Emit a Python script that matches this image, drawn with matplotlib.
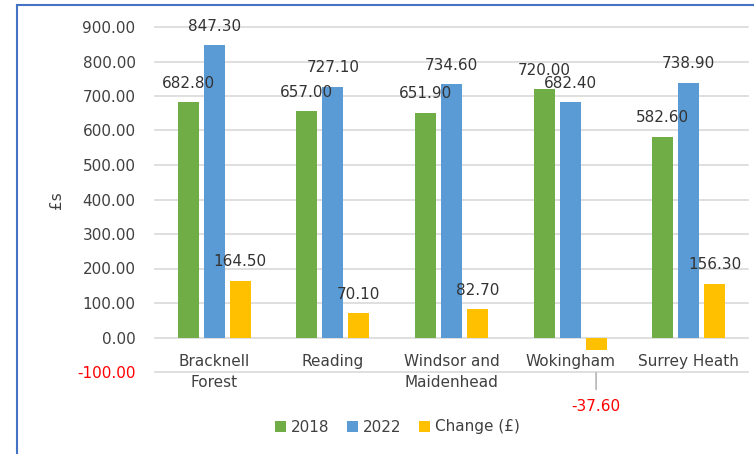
import matplotlib.pyplot as plt
import numpy as np
from matplotlib.lines import Line2D

# Data
categories = ["Bracknell\nForest", "Reading", "Windsor and\nMaidenhead", "Wokingham", "Surrey Heath"]
values_2018 = [682.80, 657.00, 651.90, 720.00, 582.60]
values_2022 = [847.30, 727.10, 734.60, 682.40, 738.90]
values_change = [164.50, 70.10, 82.70, -37.60, 156.30]
series_names = ["2018", "2022", "Change (£)"]
y_ticks = [-100, 0, 100, 200, 300, 400, 500, 600, 700, 800, 900]

colors = ["#70AD47", "#5B9BD5", "#FFC000"]
text_color = "#333333"

plt.rcParams["font.family"] = ["DejaVu Sans"]

fig = plt.figure(figsize=(7.54, 4.54), dpi=100)
ax = fig.add_axes([155 / 754, 1 - 372 / 454, (748 - 155) / 754, (372 - 27) / 454])

x = np.arange(len(categories))
width = 0.177
step = 0.219

all_series = [values_2018, values_2022, values_change]
for i, vals in enumerate(all_series):
    pos = x + (i - 1) * step
    ax.bar(pos, vals, width, color=colors[i], label=series_names[i], zorder=3)
    for xp, v in zip(pos, vals):
        if v >= 0:
            ax.annotate(f"{v:.2f}", (xp, v), xytext=(0, 13.5), textcoords="offset points",
                        ha="center", va="center", fontsize=11, color=text_color, zorder=4)
        else:
            # negative label sits below with a leader line
            ax.annotate(f"{v:.2f}", (xp, v), xytext=(0, -40.5), textcoords="offset points",
                        ha="center", va="center", fontsize=11, color="#FF0000", zorder=4,
                        arrowprops=dict(arrowstyle="-", color="#A6A6A6", lw=1,
                                        shrinkA=5, shrinkB=16))

ax.set_xlim(-0.5, len(categories) - 0.5)
ax.set_ylim(-100, 900)
ax.set_yticks(y_ticks)
ax.set_yticklabels([f"{t:.2f}" for t in y_ticks], fontsize=11, color="#404040")
ax.get_yticklabels()[0].set_color("#FF0000")
ax.grid(axis="y", color="#D9D9D9", linewidth=1.2, zorder=0)
for gl in ax.get_ygridlines():
    gl.set_clip_on(False)

ax.spines["bottom"].set_position(("data", 0))
for s in ax.spines.values():
    s.set_visible(False)
ax.set_xticks(x)
ax.set_xticklabels(categories, fontsize=11, color="#404040", linespacing=1.5)
ax.tick_params(axis="x", length=0, pad=12)
ax.tick_params(axis="y", length=0, pad=14)

fig.text(57 / 754, 1 - 200 / 454, "£s", rotation=90, ha="center", va="center",
         fontsize=11, color="#404040")

ax.legend(loc="center", bbox_to_anchor=(0.527, 1 - 427 / 454), bbox_transform=fig.transFigure,
          ncol=3, frameon=False, fontsize=11, handlelength=0.7, handleheight=0.7,
          handletextpad=0.3, columnspacing=1.2, labelcolor="#404040")

# partial blue chart border
fig.add_artist(Line2D([17 / 754, 1], [1 - 5 / 454, 1 - 5 / 454], color="#4472C4", lw=1.5))
fig.add_artist(Line2D([17 / 754, 17 / 754], [0, 1 - 5 / 454], color="#4472C4", lw=1.5))

fig.savefig("out.png", dpi=100)
